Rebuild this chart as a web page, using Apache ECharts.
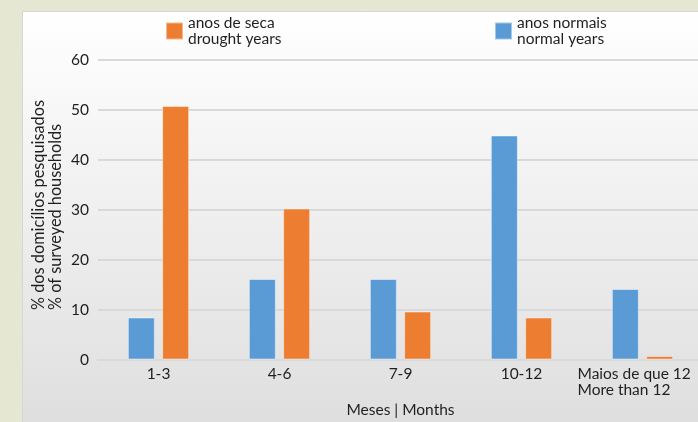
<!DOCTYPE html>
<html>
<head>
<meta charset="utf-8">
<script src="https://cdn.jsdelivr.net/npm/echarts@6/dist/echarts.min.js"></script>
<style>
  html, body { margin: 0; padding: 0; background: #e5e7d3; }
  #chart { width: 698px; height: 422px; }
</style>
</head>
<body>
<div id="chart"></div>
<script>
// Months without water supply: share of surveyed households
const categories = ['1-3', '4-6', '7-9', '10-12', 'Maios de que 12\nMore than 12'];
const normalYears = [8.4, 16.1, 16.1, 44.8, 14.1];
const droughtYears = [50.7, 30.2, 9.6, 8.4, 0.7];
const yTicks = { min: 0, max: 60, interval: 10 };

const normalName = 'anos normais\nnormal years';
const droughtName = 'anos de seca\ndrought years';
const yTitle = '% dos domicílios pesquisados\n% of surveyed households';

const FONT = 'Lato, "Open Sans", sans-serif';
const TEXT = '#1f1f1f';
const FS = 15.5;

const chart = echarts.init(document.getElementById('chart'), null, { renderer: 'canvas' });

chart.setOption({
  backgroundColor: '#e5e7d3',
  animation: false,
  textStyle: { fontFamily: FONT, color: TEXT },
  graphic: [
    {
      type: 'rect',
      z: -10,
      silent: true,
      shape: { x: 22.5, y: 11.5, width: 700, height: 420 },
      style: {
        fill: new echarts.graphic.LinearGradient(0, 0, 0, 1, [
          { offset: 0, color: '#ffffff' },
          { offset: 1, color: '#dedede' }
        ]),
        stroke: '#d6d6d6',
        lineWidth: 1
      }
    },
    {
      // vertical axis title, both lines starting from the bottom
      type: 'text',
      silent: true,
      x: 47.5,
      y: 310,
      rotation: Math.PI / 2,
      style: {
        text: yTitle,
        fontFamily: FONT,
        fontSize: 16.3,
        lineHeight: 17,
        fill: TEXT,
        align: 'left',
        verticalAlign: 'middle'
      }
    }
  ],
  legend: [
    {
      data: [droughtName],
      left: 160, top: 10,
      itemWidth: 17, itemHeight: 17, itemGap: 5,
      icon: 'rect',
      textStyle: { fontFamily: FONT, fontSize: FS, color: TEXT, lineHeight: 16 }
    },
    {
      data: [normalName],
      left: 489, top: 10,
      itemWidth: 17, itemHeight: 17, itemGap: 5,
      icon: 'rect',
      textStyle: { fontFamily: FONT, fontSize: FS, color: TEXT, lineHeight: 16 }
    }
  ],
  grid: { left: 98, top: 59.5, width: 605, height: 300, outerBoundsMode: 'none' },
  xAxis: {
    type: 'category',
    data: categories,
    name: 'Meses | Months',
    nameLocation: 'middle',
    nameGap: 37,
    nameTextStyle: { fontFamily: FONT, fontSize: FS, color: TEXT },
    axisLine: { lineStyle: { color: '#d9d9d9', width: 2 } },
    axisTick: { show: false },
    axisLabel: {
      margin: 6,
      fontFamily: FONT, fontSize: FS, color: TEXT, lineHeight: 16,
      interval: 0,
      formatter: function (v) {
        if (v.indexOf('\n') < 0) return v;
        return v.split('\n').map(function (s) { return '{l|' + s + '}'; }).join('\n');
      },
      rich: { l: { width: 130, align: 'left', fontFamily: FONT, fontSize: FS, color: TEXT, lineHeight: 16 } }
    }
  },
  yAxis: {
    type: 'value',
    min: yTicks.min, max: yTicks.max, interval: yTicks.interval,
    axisLine: { show: false },
    axisTick: { show: false },
    axisLabel: { margin: 9, fontFamily: FONT, fontSize: FS, color: TEXT },
    splitLine: { lineStyle: { color: '#d9d9d9', width: 2 } }
  },
  series: [
    {
      name: normalName,
      type: 'bar',
      data: normalYears,
      barWidth: 27,
      barGap: '27%',
      itemStyle: { color: '#5b9bd5', borderColor: 'rgba(255,255,255,0.45)', borderWidth: 1 }
    },
    {
      name: droughtName,
      type: 'bar',
      data: droughtYears,
      barWidth: 27,
      barGap: '27%',
      itemStyle: { color: '#ed7d31', borderColor: 'rgba(255,255,255,0.45)', borderWidth: 1 }
    }
  ]
});
</script>
</body>
</html>
